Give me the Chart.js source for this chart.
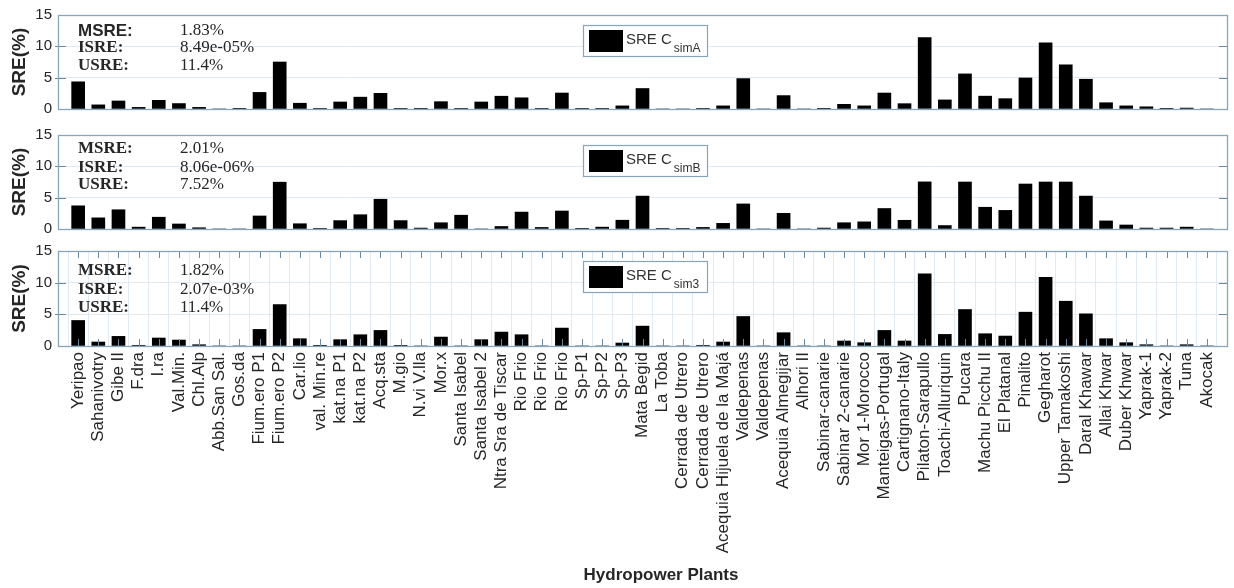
<!DOCTYPE html>
<html>
<head>
<meta charset="utf-8">
<script src="https://cdn.jsdelivr.net/npm/chart.js@4.4.0/dist/chart.umd.min.js"></script>
<style>
  html, body { margin: 0; padding: 0; background: #ffffff; }
  #wrap { position: relative; width: 1234px; height: 588px; overflow: hidden; background: #ffffff; }
  canvas { position: absolute; left: 0; }
</style>
</head>
<body>
<div id="wrap">
  <canvas id="c1" width="1234" height="124" style="top:0px"></canvas>
  <canvas id="c2" width="1234" height="124" style="top:120px"></canvas>
  <canvas id="c3" width="1234" height="352" style="top:236px"></canvas>
</div>
<script>
// ---------------- DATA ----------------
const categories = [
  "Yeripao", "Sahanivotry", "Gibe II", "F.dra", "I.ra", "Val.Min.", "Chl.Alp", "Abb.San Sal.", "Gos.da",
  "Fium.ero P1", "Fium.ero P2", "Car.lio", "val. Min.re", "kat.na P1", "kat.na P2", "Acq.sta", "M.gio",
  "N.vi V.lla", "Mor.x", "Santa Isabel", "Santa Isabel 2", "Ntra Sra de Tiscar", "Rio Frio", "Rio Frio",
  "Rio Frio", "Sp-P1", "Sp-P2", "Sp-P3", "Mata Begid", "La Toba", "Cerrada de Utrero", "Cerrada de Utrero",
  "Acequia Hijuela de la Majá", "Valdepenas", "Valdepenas", "Acequia Almegijar", "Alhori II",
  "Sabinar-canarie", "Sabinar 2-canarie", "Mor 1-Morocco", "Manteigas-Portugal", "Cartignano-Italy",
  "Pilaton-Sarapullo", "Toachi-Alluriquin", "Pucara", "Machu Picchu II", "El Platanal", "Pinalito",
  "Gegharot", "Upper Tamakoshi", "Daral Khawar", "Allai Khwar", "Duber Khwar", "Yaprak-1", "Yaprak-2",
  "Tuna", "Akocak"
];

const sreSimA = [
  4.34, 0.66, 1.28, 0.26, 1.38, 0.87, 0.26, 0, 0.05, 2.65,
  7.5, 0.92, 0.1, 1.12, 1.89, 2.5, 0.1, 0.05, 1.17, 0.1,
  1.12, 2.04, 1.79, 0.1, 2.55, 0.1, 0.1, 0.5, 3.27, 0,
  0, 0.1, 0.5, 4.85, 0, 2.14, 0, 0.05, 0.75, 0.5,
  2.55, 0.85, 11.4, 1.45, 5.6, 2.05, 1.65, 4.95, 10.55, 7.05,
  4.75, 1.0, 0.5, 0.35, 0.05, 0.15, 0
];

const sreSimB = [
  3.7, 1.78, 3.07, 0.3, 1.88, 0.8, 0.2, 0, 0, 2.08,
  7.47, 0.84, 0.1, 1.34, 2.28, 4.75, 1.34, 0.15, 1.0, 2.2,
  0, 0.4, 2.7, 0.25, 2.87, 0.05, 0.3, 1.4, 5.25, 0.1,
  0.1, 0.25, 0.9, 4.0, 0, 2.5, 0, 0.15, 1.0, 1.14,
  3.27, 1.39, 7.52, 0.55, 7.5, 3.47, 2.97, 7.18, 7.5, 7.5,
  5.25, 1.29, 0.64, 0.15, 0.15, 0.3, 0
];

const sreSim3 = [
  4.03, 0.63, 1.52, 0.05, 1.26, 0.94, 0.2, 0, 0, 2.62,
  6.54, 1.15, 0.05, 1.0, 1.78, 2.46, 0.05, 0, 1.41, 0,
  1.0, 2.2, 1.78, 0, 2.83, 0, 0, 0.47, 3.14, 0,
  0, 0.05, 0.63, 4.66, 0, 2.1, 0, 0, 0.79, 0.52,
  2.46, 0.79, 11.4, 1.83, 5.76, 1.94, 1.57, 5.34, 10.84, 7.07,
  5.08, 1.15, 0.52, 0.2, 0, 0.2, 0
];

const seriesNames = ["SRE C_simA", "SRE C_simB", "SRE C_sim3"];
const statLabels = ["MSRE:", "ISRE:", "USRE:"];
const statsSimA = ["1.83%", "8.49e-05%", "11.4%"];
const statsSimB = ["2.01%", "8.06e-06%", "7.52%"];
const statsSim3 = ["1.82%", "2.07e-03%", "11.4%"];
const yTickValues = [0, 5, 10, 15];
const yTitle = "SRE(%)";
const xTitle = "Hydropower Plants";

// ---------------- STYLE ----------------
const SANS = '"Liberation Sans", Arial, Helvetica, sans-serif';
const SERIF = '"Liberation Serif", "Times New Roman", serif';
const BORDER = '#86a6bc';
const GRID = '#dfeaf2';
const TICK = '#6a8aa0';
const TEXT = '#262626';
const N = categories.length;

const decor = {
  id: 'decor',
  afterDatasetsDraw(chart, args, o) {
    const { ctx, chartArea: a } = chart;
    const ys = chart.scales.y, xs = chart.scales.x;
    ctx.save();
    // inward tick marks
    ctx.strokeStyle = TICK; ctx.lineWidth = 1;
    ctx.beginPath();
    yTickValues.slice(1, -1).forEach(v => {
      const y = Math.round(ys.getPixelForValue(v)) + 0.5;
      ctx.moveTo(a.left - 3, y); ctx.lineTo(a.left + 8, y);
      ctx.moveTo(a.right, y); ctx.lineTo(a.right - 8, y);
    });
    if (o.xTicks) {
      for (let i = 1; i <= N; i++) {
        const x = Math.round(xs.getPixelForValue(i)) + 0.5;
        ctx.moveTo(x, a.top); ctx.lineTo(x, a.top + 7);
        ctx.moveTo(x, a.bottom); ctx.lineTo(x, a.bottom - 7);
      }
    }
    ctx.stroke();
    // axes box
    ctx.strokeStyle = BORDER; ctx.lineWidth = 1.3;
    ctx.strokeRect(Math.round(a.left) + 0.5, Math.round(a.top) + 0.5,
                   Math.round(a.right - a.left), Math.round(a.bottom - a.top));
    // statistics text
    ctx.fillStyle = TEXT; ctx.textBaseline = 'middle'; ctx.textAlign = 'left';
    statLabels.forEach((lab, k) => {
      const y = a.top + o.statDy[k];
      ctx.font = (k === 0 && o.msreSans) ? 'bold 17px ' + SANS : 'bold 17px ' + SERIF;
      ctx.fillText(lab, 78, y);
      ctx.font = '17px ' + SERIF;
      ctx.fillText(o.stats[k], 180, y);
    });
    // legend
    const ds = chart.data.datasets[0];
    const [main, sub] = ds.label.split('_');
    const bx = 583, by = Math.round(a.top) + 10, bw = 124, bh = 31;
    ctx.fillStyle = '#ffffff'; ctx.fillRect(bx, by, bw, bh);
    ctx.strokeStyle = BORDER; ctx.lineWidth = 1.2;
    ctx.strokeRect(bx + 0.5, by + 0.5, bw, bh);
    ctx.fillStyle = '#000000'; ctx.fillRect(bx + 6, by + 5, 34, 22);
    ctx.fillStyle = '#333333'; ctx.textBaseline = 'alphabetic';
    ctx.font = '15px ' + SANS;
    ctx.fillText(main, bx + 43, by + 19);
    const w = ctx.measureText(main).width;
    ctx.font = '12px ' + SANS;
    ctx.fillText(sub, bx + 43 + w + 2, by + 27);
    // x-axis title (placed as in the reference, slightly right of the axes centre)
    if (o.xTitle) {
      ctx.fillStyle = TEXT; ctx.textAlign = 'center'; ctx.textBaseline = 'middle';
      ctx.font = 'bold 17px ' + SANS;
      ctx.fillText(xTitle, 661, chart.height - 13);
    }
    ctx.restore();
  }
};

function makePanel(id, values, label, stats, cfg) {
  const xScale = {
    type: 'linear', min: 0, max: N + 1, offset: false,
    display: cfg.showX,
    ticks: {
      stepSize: 1, autoSkip: false, maxTicksLimit: 200, minRotation: 90, maxRotation: 90, padding: 6,
      color: TEXT, font: { family: SANS, size: 17 },
      callback: v => (v >= 1 && v <= N && Number.isInteger(v)) ? categories[v - 1] : ''
    },
    grid: { display: cfg.showX, color: GRID, lineWidth: 1, drawTicks: false },
    border: { display: false },
    title: { display: false }
  };
  if (cfg.showX) xScale.afterFit = s => { s.height = cfg.xHeight; s.paddingLeft = 0; s.paddingRight = 0; };
  return new Chart(document.getElementById(id), {
    type: 'bar',
    data: {
      datasets: [{
        label: label,
        data: values.map((v, i) => ({ x: i + 1, y: v })),
        backgroundColor: '#000000',
        borderWidth: 0,
        barThickness: 13
      }]
    },
    options: {
      responsive: false, animation: false, devicePixelRatio: 1,
      layout: { padding: { left: 0, right: 7, top: cfg.padTop, bottom: cfg.padBottom } },
      plugins: {
        legend: { display: false }, tooltip: { enabled: false },
        decor: { stats: stats, statDy: cfg.statDy, msreSans: cfg.msreSans, xTicks: cfg.showX, xTitle: cfg.showX }
      },
      scales: {
        x: xScale,
        y: {
          min: 0, max: 15,
          afterBuildTicks: s => { s.ticks = yTickValues.map(v => ({ value: v })); },
          ticks: { padding: 6, color: TEXT, font: { family: SANS, size: 15 } },
          grid: { color: GRID, lineWidth: 1, drawTicks: false },
          border: { display: false },
          title: {
            display: true, text: yTitle, color: TEXT,
            font: { family: SANS, size: 19, weight: 'bold' }, padding: { top: 8, bottom: 0 }
          },
          afterFit: s => { s.width = 58; }
        }
      }
    },
    plugins: [decor]
  });
}

makePanel('c1', sreSimA, seriesNames[0], statsSimA,
  { showX: false, padTop: 15, padBottom: 11, statDy: [16, 33, 51], msreSans: true });
makePanel('c2', sreSimB, seriesNames[1], statsSimB,
  { showX: false, padTop: 12, padBottom: 11, statDy: [14, 33, 50], msreSans: false });
makePanel('c3', sreSim3, seriesNames[2], statsSim3,
  { showX: true, padTop: 12, padBottom: 0, xHeight: 242, statDy: [20, 39, 57], msreSans: false });
</script>
</body>
</html>
